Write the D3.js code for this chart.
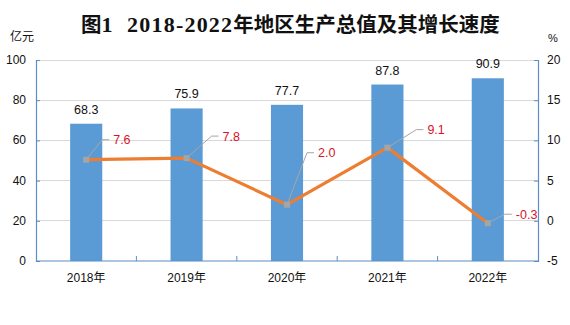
<!DOCTYPE html>
<html><head><meta charset="utf-8">
<script src="https://cdn.jsdelivr.net/npm/d3@7"></script>
<style>body{margin:0;background:#fff}svg{display:block}</style>
</head><body>
<script>
const years = ["2018年","2019年","2020年","2021年","2022年"];
const gdp = [68.3, 75.9, 77.7, 87.8, 90.9];
const growth = [7.6, 7.8, 2.0, 9.1, -0.3];
const leftTicks = [0, 20, 40, 60, 80, 100];
const rightTicks = [-5, 0, 5, 10, 15, 20];
const title = "图1 2018-2022年地区生产总值及其增长速度";
// label offsets for growth labels (layout only)
const labelOffsets = [[27,-20],[36,-22],[31,-52],[40,-18],[28,-9]];

const W = 570, H = 325;
const m = {l:36, r:538, t:60, b:261};
const svg = d3.select("body").append("svg").attr("width", W).attr("height", H);
const sans = "'Liberation Sans', Arial, 'Noto Sans CJK SC', sans-serif";

const x = d3.scaleBand().domain(years).range([m.l, m.r]).paddingInner(0.68).paddingOuter(0.34);
const xc = d3.scaleBand().domain(years).range([m.l, m.r]).padding(0);
const yL = d3.scaleLinear().domain([0,100]).range([m.b, m.t]);
const yR = d3.scaleLinear().domain([-5,20]).range([m.b, m.t]);

// title: split into CJK and Latin runs
const parts = title.match(/[\u3000-\u9fff]+|[^\u3000-\u9fff]+/g);
const tt = svg.append("text").attr("x", 81).attr("y", 32).attr("text-anchor","start")
  .attr("font-weight","bold").attr("fill","#111").attr("xml:space","preserve")
  .style("white-space","pre");
parts.forEach(p=>{
  const cjk = /[\u3000-\u9fff]/.test(p);
  tt.append("tspan")
    .attr("font-family", cjk ? "'Noto Sans CJK SC',sans-serif" : "'Liberation Serif',serif")
    .attr("font-size", cjk ? 20.5 : 22)
    .attr("letter-spacing", cjk ? 0 : 1.2)
    .text(cjk ? p : p.replace(" ", "  "));
});

// unit labels
svg.append("text").attr("x", 10).attr("y", 41).attr("font-family","'Noto Sans CJK SC',sans-serif")
  .attr("font-size", 12).attr("fill","#111").text("亿元");
svg.append("text").attr("x", 548).attr("y", 42).attr("font-family", sans)
  .attr("font-size", 11).attr("fill","#111").text("%");

// gridlines
svg.append("g").selectAll("line").data(leftTicks.filter(d=>d>0)).join("line")
  .attr("x1", m.l).attr("x2", m.r).attr("y1", d=>yL(d)).attr("y2", d=>yL(d))
  .attr("stroke","#D9D9D9").attr("stroke-width",1).attr("shape-rendering","crispEdges");

// bars
svg.append("g").selectAll("rect").data(gdp).join("rect")
  .attr("x", (d,i)=>x(years[i])).attr("width", x.bandwidth())
  .attr("y", d=>yL(d)).attr("height", d=>yL(0)-yL(d))
  .attr("fill","#5B9BD5");

// bar labels
svg.append("g").selectAll("text").data(gdp).join("text")
  .attr("x", (d,i)=>x(years[i]) + x.bandwidth()/2).attr("y", d=>yL(d)-10)
  .attr("text-anchor","middle").attr("font-family", sans).attr("font-size", 12.5)
  .attr("fill","#111").text(d=>d.toFixed(1));

// axes
const axisColor = "#5B8EC4";
const gL = svg.append("g").attr("transform",`translate(${m.l},0)`)
  .call(d3.axisRight(yL).tickValues(leftTicks).tickSize(4).tickFormat(""));
const gR = svg.append("g").attr("transform",`translate(${m.r},0)`)
  .call(d3.axisLeft(yR).tickValues(rightTicks).tickSize(4).tickFormat(""));
const gB = svg.append("g").attr("transform",`translate(0,${m.b})`)
  .call(d3.axisTop(xc).tickSize(0).tickFormat(""));
[gL,gR,gB].forEach(g=>{
  g.select(".domain").attr("stroke", axisColor).attr("stroke-width",1.2);
  g.selectAll(".tick line").attr("stroke", axisColor);
});
gB.select(".domain").attr("d", `M${m.l},0H${m.r}`);
// category boundary ticks
svg.append("g").selectAll("line").data(years.slice(1)).join("line")
  .attr("x1", d=>xc(d)).attr("x2", d=>xc(d)).attr("y1", m.b).attr("y2", m.b-5)
  .attr("stroke", axisColor).attr("stroke-width",1);

// tick labels
svg.append("g").selectAll("text").data(leftTicks).join("text")
  .attr("x", 26).attr("y", d=>yL(d)+4).attr("text-anchor","end")
  .attr("font-family", sans).attr("font-size", 12).attr("fill","#111").text(d=>d);
svg.append("g").selectAll("text").data(rightTicks).join("text")
  .attr("x", 547).attr("y", d=>yR(d)+4).attr("text-anchor","start")
  .attr("font-family", sans).attr("font-size", 12).attr("fill","#111").text(d=>d);
svg.append("g").selectAll("text").data(years).join("text")
  .attr("x", d=>xc(d)+xc.bandwidth()/2).attr("y", 282).attr("text-anchor","middle")
  .attr("font-family", sans).attr("font-size", 12).attr("fill","#111").text(d=>d);

// line
const px = i => xc(years[i]) + xc.bandwidth()/2;
const line = d3.line().x((d,i)=>px(i)).y(d=>yR(d));
svg.append("path").datum(growth).attr("d", line).attr("fill","none")
  .attr("stroke","#ED7D31").attr("stroke-width",3.2).attr("stroke-linejoin","round");

// leaders
svg.append("g").selectAll("path").data(growth).join("path")
  .attr("d",(d,i)=>{
    const x0 = px(i), y0 = yR(d);
    const tx = x0 + labelOffsets[i][0], ty = y0 + labelOffsets[i][1];
    return `M${x0},${y0}L${tx-11},${ty}L${tx-4},${ty}`;
  }).attr("fill","none").attr("stroke","#A6A6A6").attr("stroke-width",1);

// markers
svg.append("g").selectAll("rect").data(growth).join("rect")
  .attr("x",(d,i)=>px(i)-3).attr("y", d=>yR(d)-3).attr("width",6).attr("height",6)
  .attr("fill","#A5A5A5");

// growth labels
svg.append("g").selectAll("text").data(growth).join("text")
  .attr("x",(d,i)=>px(i)+labelOffsets[i][0]).attr("y",(d,i)=>yR(d)+labelOffsets[i][1]+4.5)
  .attr("font-family", sans).attr("font-size", 12.5).attr("fill","#D7141F")
  .text(d=>d.toFixed(1));
</script>
</body></html>
